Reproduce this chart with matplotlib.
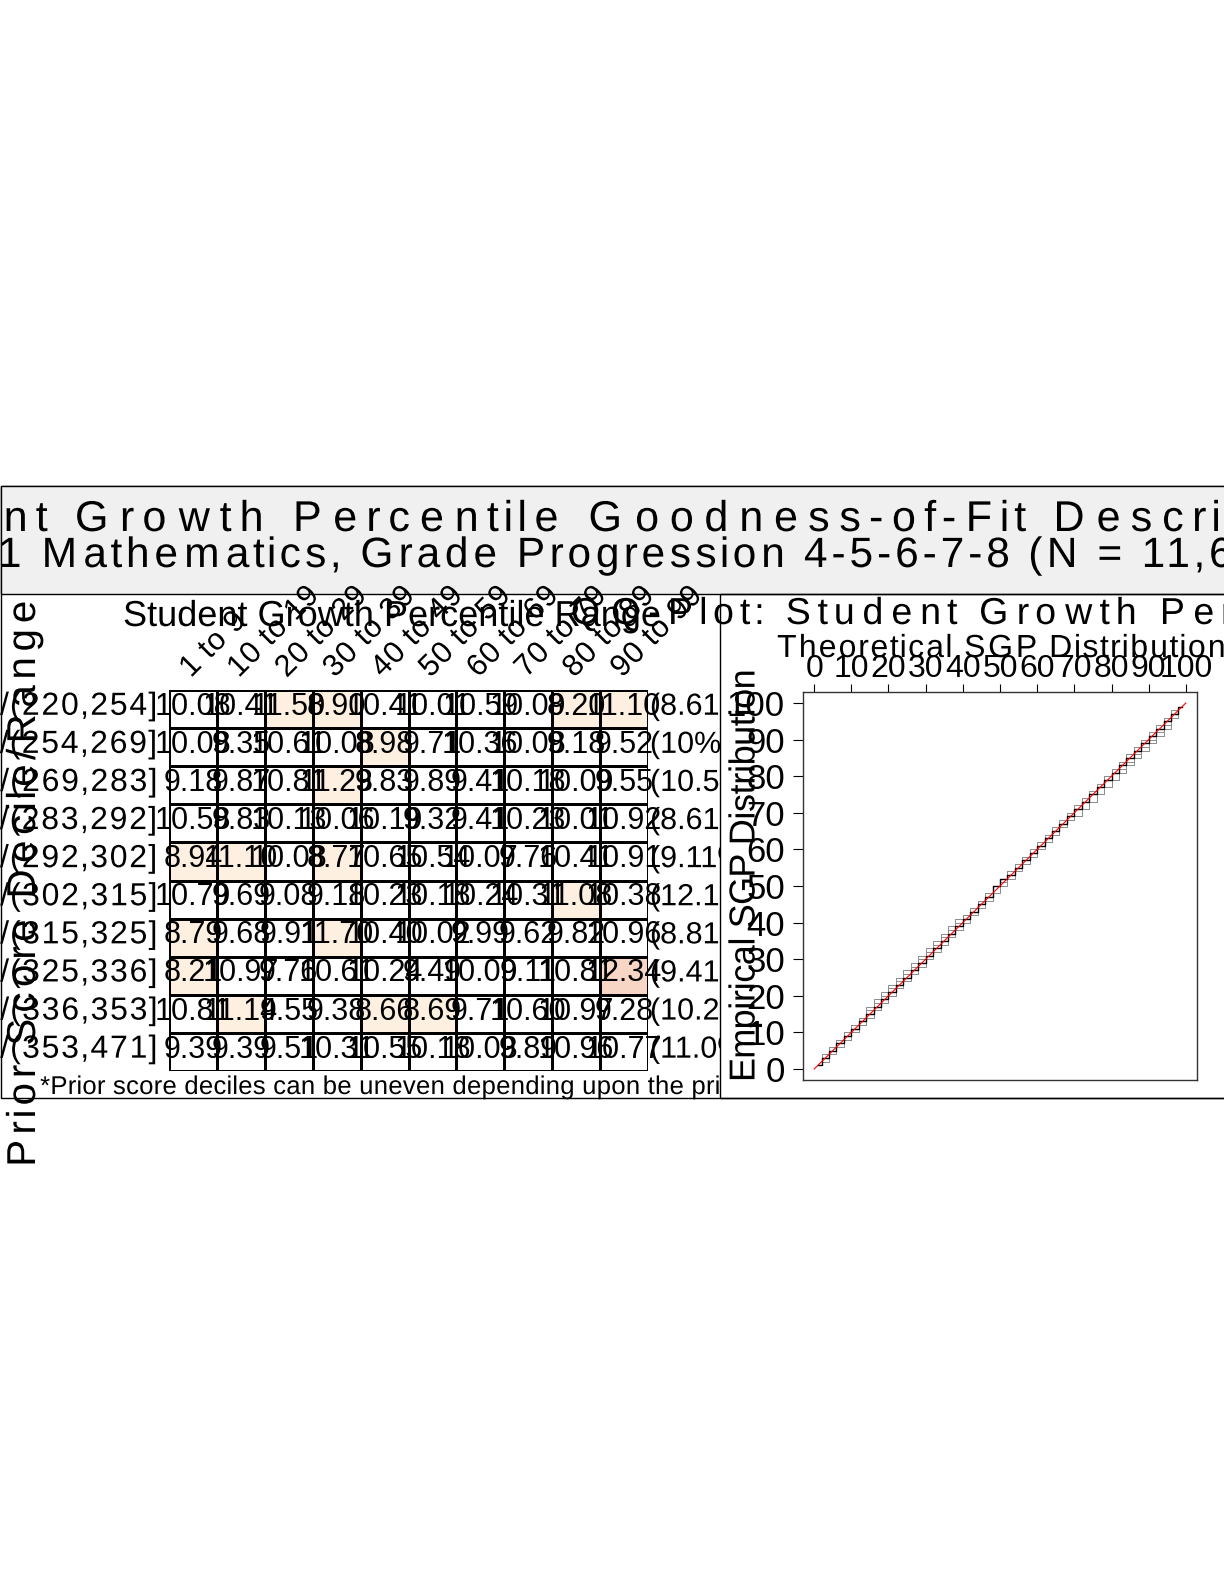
import numpy as np
import matplotlib
matplotlib.use('Agg')
from matplotlib import pyplot as plt
from matplotlib.colors import ListedColormap
from matplotlib.patches import Rectangle
from matplotlib.patheffects import AbstractPathEffect
from matplotlib.path import Path
from matplotlib.transforms import Bbox, TransformedBbox

plt.rcParams['font.family'] = ['Liberation Sans', 'DejaVu Sans']

W, H = 1224, 1584

# ---- data ----
sgp_ranges = ['1 to 9', '10 to 19', '20 to 29', '30 to 39', '40 to 49',
              '50 to 59', '60 to 69', '70 to 79', '80 to 89', '90 to 99']
prior_deciles = ['1st/(220,254]', '2nd/(254,269]', '3rd/(269,283]', '4th/(283,292]',
                 '5th/(292,302]', '6th/(302,315]', '7th/(315,325]', '8th/(325,336]',
                 '9th/(336,353]', '10th/(353,471]']
cell_pct = np.array([
    [10.08, 10.41, 11.50, 8.90, 10.41, 10.01, 10.59, 10.09, 8.20, 11.10],
    [10.08, 9.35, 10.61, 10.08, 8.98, 9.71, 10.36, 10.08, 9.18, 9.52],
    [9.18, 9.87, 10.81, 11.23, 9.83, 9.89, 9.41, 10.18, 10.09, 9.55],
    [10.58, 9.83, 10.13, 10.06, 10.19, 9.32, 9.41, 10.23, 10.01, 10.92],
    [8.94, 11.10, 10.08, 8.77, 10.65, 10.54, 10.07, 9.76, 10.41, 10.91],
    [10.79, 9.69, 9.08, 9.18, 10.23, 10.18, 10.24, 10.31, 11.08, 10.38],
    [8.79, 9.68, 9.91, 11.70, 10.40, 10.02, 9.99, 9.62, 9.82, 10.96],
    [8.21, 10.97, 9.76, 10.61, 10.24, 9.49, 10.09, 9.11, 10.81, 12.34],
    [10.81, 11.14, 9.55, 9.38, 8.66, 8.69, 9.71, 10.60, 10.97, 9.28],
    [9.39, 9.39, 9.51, 10.31, 10.55, 10.18, 10.03, 9.89, 10.96, 10.77],
])
decile_pct = ['(8.61%)', '(10%)', '(10.52%)', '(8.61%)', '(9.11%)',
              '(12.1%)', '(8.81%)', '(9.41%)', '(10.2%)', '(11.0%)']

theo_q = np.arange(1, 100, 2)
emp_all = [1, 3, 5, 7, 9, 11, 13, 15, 17, 19,
           21, 23, 25, 27, 29, 31, 33, 35, 37, 39,
           41, 43, 45, 47, 50, 52, 53, 55, 57, 59,
           61, 63, 65, 67, 69, 71, 73, 75, 77, 79,
           81, 83, 85, 87, 89, 91, 93, 95, 97, 99]
emp_groups = [
    [1, 3, 6, 8, 10, 12, 14, 17, 19, 21,
     23, 25, 27, 29, 31, 33, 35, 37, 39, 41,
     42, 44, 46, 48, 50, 52, 54, 56, 58, 59,
     61, 63, 65, 67, 69, 71, 73, 75, 77, 80,
     82, 84, 86, 88, 89, 91, 93, 95, 97, 99],
    [1, 2, 4, 6, 8, 10, 12, 14, 16, 18,
     20, 22, 25, 28, 30, 32, 34, 36, 38, 40,
     42, 44, 46, 48, 50, 51, 53, 55, 57, 59,
     61, 62, 64, 66, 68, 69, 71, 73, 75, 77,
     79, 82, 84, 86, 88, 90, 92, 94, 97, 99],
    [1, 4, 6, 8, 10, 12, 14, 16, 18, 20,
     22, 24, 26, 28, 30, 32, 34, 36, 38, 40,
     42, 44, 46, 48, 50, 52, 54, 56, 58, 60,
     62, 64, 66, 68, 70, 72, 74, 76, 78, 80,
     82, 84, 86, 88, 90, 92, 94, 96, 98, 99],
    [1, 3, 5, 7, 8, 10, 12, 14, 16, 18,
     20, 22, 24, 26, 28, 30, 32, 34, 36, 38,
     40, 42, 44, 46, 48, 50, 52, 54, 56, 58,
     60, 62, 64, 66, 68, 69, 71, 73, 75, 77,
     79, 81, 83, 85, 87, 89, 91, 93, 96, 99],
]
ref_line = [0, 100]
axis_ticks = np.arange(0, 101, 10)

title_1 = 'Student Growth Percentile Goodness-of-Fit Descriptives'
title_2 = '2011 Mathematics, Grade Progression 4-5-6-7-8 (N = 11,621)'
footnote = '*Prior score deciles can be uneven depending upon the prior score distribution'


class Spread(AbstractPathEffect):
    # the old device put glyphs further apart (or closer) than the font does
    def __init__(self, k, anchor=0.0):
        super().__init__()
        self.k = k
        self.anchor = anchor

    def draw_path(self, renderer, gc, tpath, affine, rgbFace=None):
        verts = tpath.vertices.copy()
        codes = tpath.codes
        if codes is not None and len(verts) and self.k != 1:
            real = codes != Path.CLOSEPOLY
            xs = verts[real, 0]
            pivot = xs.min() + self.anchor * (xs.max() - xs.min())
            starts = list(np.flatnonzero(codes == Path.MOVETO)) + [len(verts)]
            for a, b in zip(starts[:-1], starts[1:]):
                seg = verts[a:b, 0][real[a:b]]
                if len(seg) == 0:
                    continue
                mid = 0.5 * (seg.min() + seg.max())
                verts[a:b, 0] += (self.k - 1) * (mid - pivot)
            tpath = Path(verts, codes)
        renderer.draw_path(gc, tpath, affine, rgbFace)


def spaced(ax, x, y, s, size, k, ha='left', clip=None, **kw):
    anchor = {'left': 0.0, 'center': 0.5, 'right': 1.0}[ha]
    t = ax.text(x, y, s, fontsize=size, ha=ha, path_effects=[Spread(k, anchor)], **kw)
    if clip is not None:
        t.set_clip_box(clip)
        t.set_clip_on(True)
    return t


fig = plt.figure(figsize=(W / 100, H / 100), dpi=100)
left_clip = TransformedBbox(Bbox.from_extents(0, 0, 720 / W, 1), fig.transFigure)

# base layer in pixel units
ax0 = fig.add_axes([0, 0, 1, 1])
ax0.set_xlim(0, W)
ax0.set_ylim(H, 0)
ax0.axis('off')
ax0.add_patch(Rectangle((0.5, 486), W + 20, 1098 - 486, fill=False, edgecolor='black', lw=1))
ax0.add_patch(Rectangle((0.5, 486), W + 20, 108, facecolor='#F0F0F0', edgecolor='black', lw=1))
ax0.add_patch(Rectangle((720, 594), W, 1098 - 594, fill=False, edgecolor='black', lw=1))

spaced(ax0, -164, 531, title_1, 31, 1.45, va='baseline')
spaced(ax0, -86, 567, title_2, 30.5, 1.21, va='baseline')
spaced(ax0, 123, 626, 'Student Growth Percentile Range', 26, 1.0, va='baseline', clip=left_clip)
spaced(ax0, 24, 884, 'Prior Score Decile/Range', 29, 1.26, ha='center', va='center', rotation=90)
spaced(ax0, 40, 1094, footnote, 18.5, 1.02, va='baseline', clip=left_clip)
spaced(ax0, 566, 624, 'QQ-Plot: Student Growth Percentiles', 27, 1.38, va='baseline')
spaced(ax0, 776, 657, 'Theoretical SGP Distribution', 23, 1.12, va='baseline')
spaced(ax0, 745, 876, 'Empirical SGP Distribution', 26, 0.97, ha='center', va='center', rotation=90)

# goodness-of-fit table
ax_t = fig.add_axes([169 / W, 1 - 1071 / H, (648 - 169) / W, (1071 - 690) / H])
dev = np.abs(cell_pct - 10)
levels = np.where(dev > 2, 2, np.where(dev > 1, 1, 0))
ax_t.pcolormesh(np.arange(11), np.arange(11), levels,
                cmap=ListedColormap(['white', '#FDF0E1', '#F8D6C5']), vmin=0, vmax=2,
                edgecolors='black', linewidth=0.8)
ax_t.set_xlim(0, 10)
ax_t.set_ylim(10, 0)
ax_t.axis('off')

for i in range(10):
    for j in range(10):
        ax_t.text(j + 0.5, i + 0.44, f'{cell_pct[i, j]:.2f}', ha='center', va='center', fontsize=22)
    spaced(ax_t, -0.23, i + 0.44, prior_deciles[i], 23, 1.1, ha='right', va='center')
    spaced(ax_t, 10.04, i + 0.44, decile_pct[i], 22, 1.0, va='center', clip=left_clip)

for j, lab in enumerate(sgp_ranges):
    spaced(ax_t, j + 0.45, -0.3, lab, 22, 1.05, va='baseline', rotation=45,
           rotation_mode='anchor', clip=left_clip)

# QQ plot
ax_q = fig.add_axes([803 / W, 1 - 1080 / H, (1197 - 803) / W, (1080 - 692) / H])
for g in emp_groups:
    ax_q.plot(theo_q, g, drawstyle='steps-mid', color='#8c8c8c', lw=0.7)
ax_q.plot(theo_q, emp_all, drawstyle='steps-mid', color='black', lw=1.0)
ax_q.plot(ref_line, ref_line, color='red', lw=0.8)
ax_q.set_xlim(-3, 103)
ax_q.set_ylim(-3, 103)
ax_q.set_xticks(axis_ticks)
ax_q.set_yticks(axis_ticks)
ax_q.xaxis.tick_top()
ax_q.tick_params(axis='x', labelsize=23, length=6, width=0.8, pad=0, direction='out')
ax_q.tick_params(axis='y', labelsize=25, length=7, width=0.8, pad=6, direction='out')
for sp in ax_q.spines.values():
    sp.set_linewidth(1.0)
    sp.set_color('#333333')

fig.savefig('out.png', dpi=100)
